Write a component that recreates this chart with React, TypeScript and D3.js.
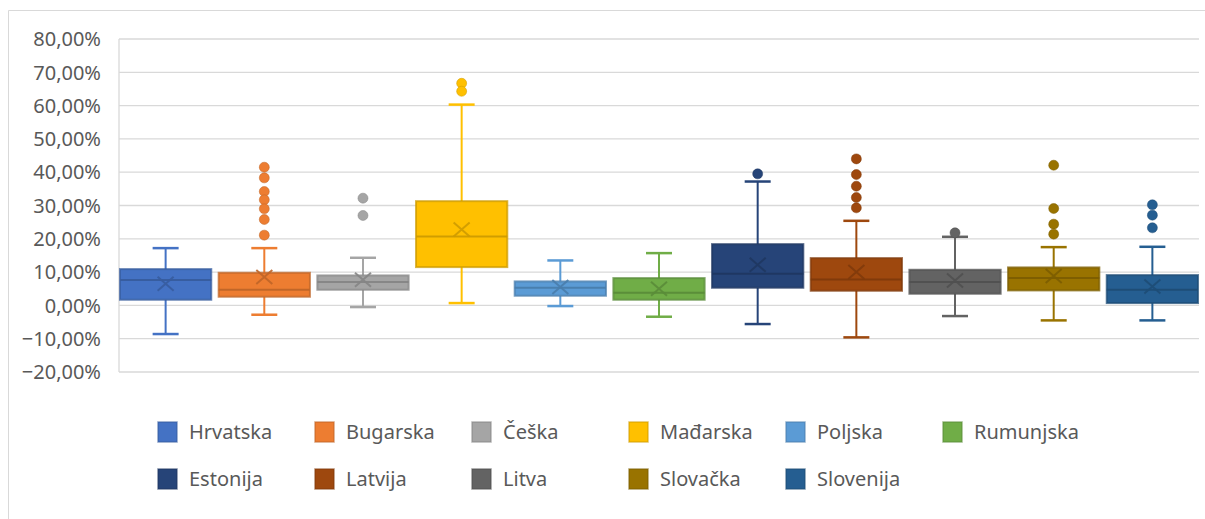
import { useEffect, useRef } from 'react';
import * as d3 from 'd3';

// values in percent
const categories = ['Hrvatska', 'Bugarska', 'Češka', 'Mađarska', 'Poljska', 'Rumunjska',
  'Estonija', 'Latvija', 'Litva', 'Slovačka', 'Slovenija'];
const colors = ['#4472C4', '#ED7D31', '#A5A5A5', '#FFC000', '#5B9BD5', '#70AD47',
  '#264478', '#9E480E', '#636363', '#997300', '#255E91'];
const whiskerLow = [-8.6, -2.8, -0.5, 0.7, -0.2, -3.4, -5.6, -9.6, -3.2, -4.5, -4.5];
const q1 = [1.7, 2.6, 4.7, 11.5, 2.9, 1.7, 5.3, 4.4, 3.5, 4.5, 0.7];
const medians = [7.6, 4.7, 7.0, 20.7, 5.3, 3.8, 9.5, 7.8, 7.0, 8.2, 4.7];
const q3 = [10.9, 9.8, 9.0, 31.3, 7.2, 8.2, 18.4, 14.2, 10.7, 11.4, 9.1];
const whiskerHigh = [17.2, 17.2, 14.3, 60.3, 13.5, 15.7, 37.2, 25.4, 20.6, 17.5, 17.6];
const means = [6.5, 8.5, 7.7, 22.8, 5.5, 5.0, 12.2, 10.0, 7.5, 8.8, 5.7];
const outliers = [
  [],
  [41.5, 38.3, 34.2, 31.7, 29.0, 25.8, 21.1],
  [32.2, 27.0],
  [66.7, 64.3],
  [],
  [],
  [39.5],
  [44.0, 39.3, 35.8, 32.4, 29.3],
  [21.8],
  [42.1, 29.1, 24.4, 21.4],
  [30.2, 27.1, 23.3],
];
const yTicks = [-20, -10, 0, 10, 20, 30, 40, 50, 60, 70, 80];

const W = 1205;
const H = 519;
const FONT = '"Noto Sans", sans-serif';

const App = () => {
  const svgRef = useRef<SVGSVGElement>(null);

  useEffect(() => {
    const svg = d3.select(svgRef.current);
    svg.selectAll('*').remove();

    const left = 119, right = 1199, top = 39, bottom = 372;

    // chart frame
    svg.append('path')
      .attr('d', `M8.5,${H}V10.5H${W}`)
      .attr('fill', 'none')
      .attr('stroke', '#d9d9d9')
      .attr('stroke-width', 1);

    const y = d3.scaleLinear().domain([-20, 80]).range([bottom, top]);
    const x = d3.scaleBand().domain(categories).range([left, right])
      .paddingInner(0.075).paddingOuter(0.01);

    const loc = d3.formatLocale({ decimal: ',', thousands: '.', grouping: [3], currency: ['', '€'] });
    const fmt = loc.format('.2f');

    // grid
    svg.append('g')
      .selectAll('line')
      .data(yTicks)
      .join('line')
      .attr('x1', left).attr('x2', right)
      .attr('y1', d => y(d)).attr('y2', d => y(d))
      .attr('stroke', '#d9d9d9')
      .attr('stroke-width', 1.3);

    svg.append('line')
      .attr('x1', left).attr('x2', left)
      .attr('y1', top).attr('y2', bottom)
      .attr('stroke', '#d9d9d9')
      .attr('stroke-width', 1.3);

    svg.append('g')
      .selectAll('text')
      .data(yTicks)
      .join('text')
      .attr('x', 101)
      .attr('y', d => y(d))
      .attr('dy', '0.36em')
      .attr('text-anchor', 'end')
      .attr('font-family', FONT)
      .attr('font-size', 20)
      .attr('fill', '#595959')
      .text(d => `${fmt(d)}%`);

    // boxes
    const bw = x.bandwidth();
    const capW = 26;
    const boxes = svg.append('g')
      .selectAll('g')
      .data(categories)
      .join('g');

    boxes.each(function (name, i) {
      const g = d3.select(this);
      const c = colors[i];
      const dark = d3.color(c)!.darker(0.6).formatHex();
      const x0 = x(name)!;
      const cx = x0 + bw / 2;

      // whiskers
      [[whiskerHigh[i], q3[i]], [whiskerLow[i], q1[i]]].forEach(([end, edge]) => {
        g.append('line')
          .attr('x1', cx).attr('x2', cx)
          .attr('y1', y(end)).attr('y2', y(edge))
          .attr('stroke', c).attr('stroke-width', 2);
        g.append('line')
          .attr('x1', cx - capW / 2).attr('x2', cx + capW / 2)
          .attr('y1', y(end)).attr('y2', y(end))
          .attr('stroke', c).attr('stroke-width', 2.5);
      });

      g.append('rect')
        .attr('x', x0)
        .attr('y', y(q3[i]))
        .attr('width', bw)
        .attr('height', y(q1[i]) - y(q3[i]))
        .attr('fill', c)
        .attr('stroke', dark)
        .attr('stroke-opacity', 0.75)
        .attr('stroke-width', 2);

      g.append('line')
        .attr('x1', x0).attr('x2', x0 + bw)
        .attr('y1', y(medians[i])).attr('y2', y(medians[i]))
        .attr('stroke', dark).attr('stroke-opacity', 0.95).attr('stroke-width', 2);

      const my = y(means[i]);
      g.append('path')
        .attr('d', `M${cx - 8},${my - 7}L${cx + 8},${my + 7}M${cx - 8},${my + 7}L${cx + 8},${my - 7}`)
        .attr('stroke', dark).attr('stroke-opacity', 0.9).attr('stroke-width', 2)
        .attr('fill', 'none');

      g.selectAll('circle')
        .data(outliers[i])
        .join('circle')
        .attr('cx', cx)
        .attr('cy', d => y(d))
        .attr('r', 5)
        .attr('fill', c)
        .attr('stroke', dark)
        .attr('stroke-opacity', 0.5)
        .attr('stroke-width', 1);
    });

    // legend
    const perRow = 6;
    const colW = 157;
    const legend = svg.append('g')
      .selectAll('g')
      .data(categories)
      .join('g')
      .attr('transform', (d, i) =>
        `translate(${157 + (i % perRow) * colW},${432 + Math.floor(i / perRow) * 47})`);

    legend.append('rect')
      .attr('x', 1).attr('y', -10)
      .attr('width', 19).attr('height', 20)
      .attr('fill', (d, i) => colors[i])
      .attr('stroke', (d, i) => d3.color(colors[i])!.darker(0.6).formatHex())
      .attr('stroke-opacity', 0.6)
      .attr('stroke-width', 1.5);

    legend.append('text')
      .attr('x', 32)
      .attr('dy', '0.36em')
      .attr('font-family', FONT)
      .attr('font-size', 20)
      .attr('fill', '#595959')
      .text(d => d);
  }, []);

  return (
    <svg ref={svgRef} width={W} height={H}
      style={{ position: 'absolute', left: 0, top: 0, background: '#fff' }} />
  );
};

export default App;
